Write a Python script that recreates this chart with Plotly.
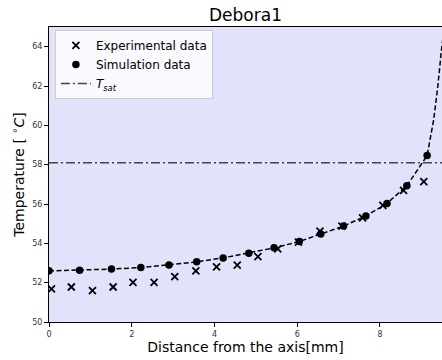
import plotly.graph_objects as go

# Experimental data
exp_x = [0.06, 0.54, 1.05, 1.55, 2.03, 2.54, 3.04, 3.55, 4.05, 4.55, 5.05, 5.53, 6.03, 6.55, 7.08, 7.58, 8.07, 8.57, 9.06]
exp_y = [51.68, 51.78, 51.6, 51.78, 52.02, 52.02, 52.31, 52.6, 52.8, 52.89, 53.32, 53.72, 54.06, 54.62, 54.88, 55.3, 55.93, 56.69, 57.14]

# Simulation data (markers)
sim_x = [0.0, 0.74, 1.51, 2.22, 2.90, 3.57, 4.21, 4.83, 5.44, 6.05, 6.57, 7.12, 7.66, 8.17, 8.65, 9.14]
sim_y = [52.6, 52.63, 52.69, 52.77, 52.9, 53.06, 53.26, 53.5, 53.77, 54.09, 54.47, 54.88, 55.39, 56.03, 56.93, 58.46]

# Simulation curve continuation beyond last marker
tail_x = [9.30, 9.40, 9.48, 9.52]
tail_y = [60.3, 62.0, 63.7, 64.4]

T_sat = 58.1
x_range = [0, 9.5]
y_range = [50, 65]
x_ticks = [0, 2, 4, 6, 8]
y_ticks = [50, 52, 54, 56, 58, 60, 62, 64]

FONT = "DejaVu Sans"
W, H = 442, 360

fig = go.Figure()

# dashed simulation curve
fig.add_trace(go.Scatter(
    x=sim_x + tail_x, y=sim_y + tail_y, mode="lines",
    line=dict(color="black", dash="5px,2.5px", width=1.5),
    showlegend=False, hoverinfo="skip"))

fig.add_trace(go.Scatter(
    x=exp_x, y=exp_y, mode="markers", name="Experimental data",
    marker=dict(symbol="x-thin", size=7, color="black",
                line=dict(color="black", width=1.8))))

fig.add_trace(go.Scatter(
    x=sim_x, y=sim_y, mode="markers", name="Simulation data",
    marker=dict(symbol="circle", size=7.5, color="black")))

fig.add_trace(go.Scatter(
    x=x_range, y=[T_sat, T_sat], mode="lines",
    name="<i>T</i><sub><i>sat</i></sub>",
    line=dict(color="#444444", dash="9px,3px,2px,3px", width=1.5)))

L, T, B = 49, 27, H - 322

fig.update_layout(
    width=W, height=H,
    margin=dict(l=L, r=0, t=T, b=B, autoexpand=False),
    paper_bgcolor="white", plot_bgcolor="#E2E2FA",
    font=dict(family=FONT, color="black"),
    title=dict(text="Debora1", x=(L + W) / 2 / W, xanchor="center",
               y=1 - 15 / H, yanchor="middle",
               font=dict(size=17, family=FONT)),
    legend=dict(x=0.015, y=0.99, xanchor="left", yanchor="top",
                bgcolor="rgba(255,255,255,0.8)", bordercolor="#cccccc",
                borderwidth=1, font=dict(size=12, family=FONT),
                tracegroupgap=0, itemwidth=30),
    showlegend=True,
)

fig.update_xaxes(
    range=x_range, tickvals=x_ticks, ticks="outside", ticklen=4,
    tickcolor="black", tickfont=dict(size=8, color="#333333"),
    showgrid=False, zeroline=False, showline=True, linecolor="black",
    linewidth=1, mirror=True, automargin=False,
    title=dict(text="Distance from the axis[mm]", font=dict(size=14), standoff=1))

fig.update_yaxes(
    range=y_range, tickvals=y_ticks, ticks="outside", ticklen=4,
    tickcolor="black", tickfont=dict(size=8, color="#333333"),
    showgrid=False, zeroline=False, showline=True, linecolor="black",
    linewidth=1, mirror=True, automargin=False,
    title=dict(text="Temperature [ <sup>∘</sup><i>C</i>]", font=dict(size=14), standoff=4))

fig.write_html(
    "out.html",
    config={"displayModeBar": False},
    post_script="document.body.style.margin='0';document.body.style.overflow='hidden';",
)
